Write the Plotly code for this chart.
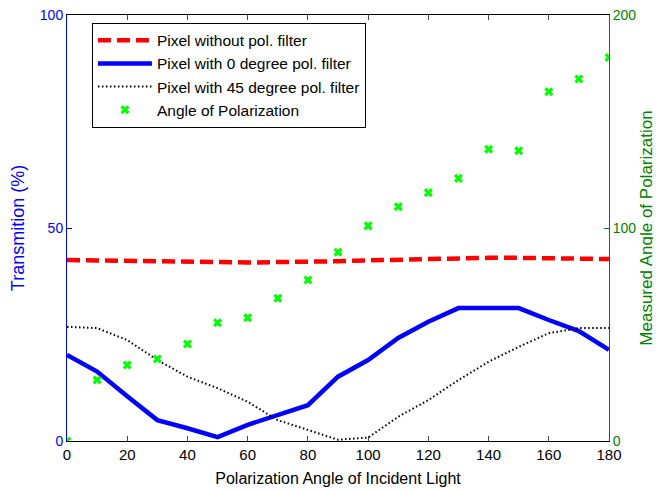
import plotly.graph_objects as go

angles = [0, 10, 20, 30, 40, 50, 60, 70, 80, 90, 100, 110, 120, 130, 140, 150, 160, 170, 180]
no_filter = [42.5, 42.4, 42.2, 42.1, 42.0, 41.9, 41.9, 42.0, 42.0, 42.2, 42.4, 42.6, 42.8, 43.0, 43.0, 43.0, 42.9, 42.8, 42.7]
filter_0 = [20.2, 16.3, 10.5, 4.9, 3.0, 0.9, 3.8, 6.0, 8.4, 15.1, 19.0, 24.2, 28.0, 31.2, 31.2, 31.2, 28.4, 25.8, 21.4]
filter_45 = [26.8, 26.5, 23.7, 19.0, 15.1, 12.4, 9.2, 4.9, 2.6, 0.3, 0.8, 5.7, 9.6, 14.3, 18.6, 22.1, 25.3, 26.5, 26.5]
measured = [0, 28.6, 35.7, 38.5, 45.5, 55.5, 57.9, 67, 75.6, 88.6, 101, 110, 116.6, 123.3, 137, 136.3, 164, 170, 180]

x_ticks = list(range(0, 181, 20))
y1_ticks = [0, 50, 100]
y2_ticks = [0, 100, 200]

fig = go.Figure()
fig.add_trace(go.Scatter(x=angles, y=no_filter, mode="lines", name="Pixel without pol. filter",
                         legendgroup="a",
                         line=dict(color="#ff0000", width=4.5, dash="13px,6px")))
fig.add_trace(go.Scatter(x=angles, y=filter_0, mode="lines", name="Pixel with 0 degree pol. filter",
                         legendgroup="b",
                         line=dict(color="#0000ff", width=4.5)))
fig.add_trace(go.Scatter(x=angles, y=filter_45, mode="lines", name="Pixel with 45 degree pol. filter",
                         legendgroup="c",
                         line=dict(color="#000000", width=2, dash="1.5px,2.5px")))
fig.add_trace(go.Scatter(x=angles, y=measured, mode="markers", name="Angle of Polarization", yaxis="y2",
                         legendgroup="d",
                         marker=dict(symbol="x", color="#00ff00", size=8)))

fig.update_layout(
    width=653, height=483,
    margin=dict(l=59, r=52, t=7, b=50, autoexpand=False),
    paper_bgcolor="white", plot_bgcolor="white",
    font=dict(family="Liberation Sans, Arial, sans-serif", size=15, color="#000000"),
    xaxis=dict(range=[0, 180], tickvals=x_ticks, ticks="inside", ticklen=5, showgrid=False,
               zeroline=False, showline=True, linecolor="#000000", linewidth=1, mirror="ticks",
               automargin=False, ticklabelstandoff=0,
               title=dict(text="Polarization Angle of Incident Light", font=dict(size=16), standoff=10),
               tickfont=dict(size=15, color="#000000")),
    yaxis=dict(range=[0, 100], tickvals=y1_ticks, ticks="inside", ticklen=5, showgrid=False,
               zeroline=False, showline=True, linecolor="#0000ff", linewidth=1, tickcolor="#0000ff",
               automargin=False, ticklabeloverflow="allow",
               tickfont=dict(color="#0000ff", size=14),
               title=dict(text="Transmition (%)", font=dict(color="#0000ff", size=18), standoff=12)),
    yaxis2=dict(range=[0, 200], tickvals=y2_ticks, ticks="inside", ticklen=5, showgrid=False,
                zeroline=False, showline=True, linecolor="#008000", linewidth=1, tickcolor="#008000",
                overlaying="y", side="right", automargin=False, ticklabeloverflow="allow",
                tickfont=dict(color="#008000", size=14),
                title=dict(text="Measured Angle of Polarization", font=dict(color="#008000", size=17), standoff=4)),
    legend=dict(x=0.046, y=0.982, xanchor="left", yanchor="top", bgcolor="white",
                bordercolor="#000000", borderwidth=1, font=dict(size=15.5), tracegroupgap=0,
                itemwidth=54),
    showlegend=True,
)

fig.write_html("out.html")
